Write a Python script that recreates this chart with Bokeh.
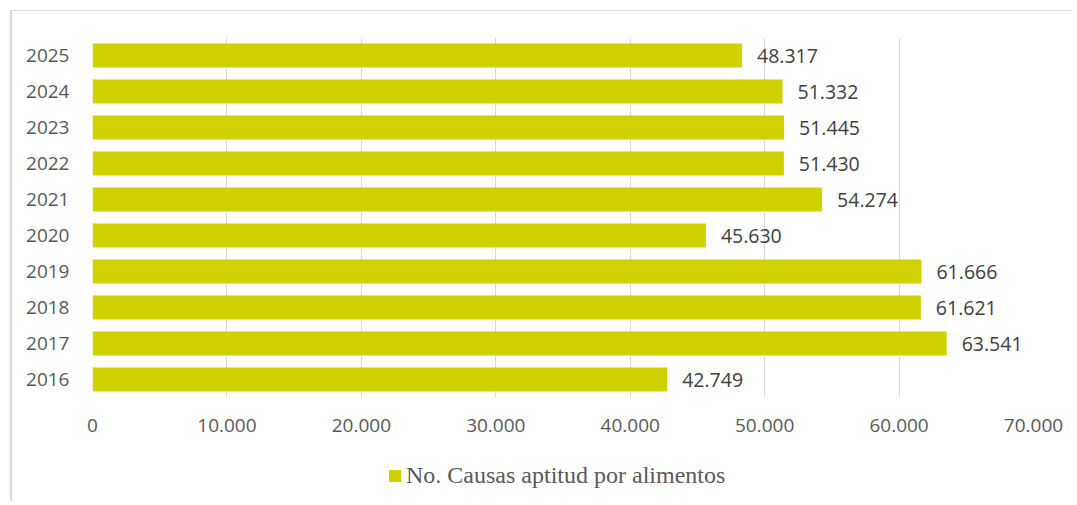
from bokeh.plotting import figure
from bokeh.layouts import column
from bokeh.models import FactorRange, Range1d, CustomJSTickFormatter, Legend, LegendItem, FixedTicker
from bokeh.core.properties import value
from bokeh.embed import file_html
from bokeh.resources import INLINE

years = ["2016", "2017", "2018", "2019", "2020", "2021", "2022", "2023", "2024", "2025"]
causas = [42749, 63541, 61621, 61666, 45630, 54274, 51430, 51445, 51332, 48317]
x_ticks = [0, 10000, 20000, 30000, 40000, 50000, 60000, 70000]
series_name = "No. Causas aptitud por alimentos"

labels = [f"{v:,}".replace(",", ".") for v in causas]

BAR = "#d1d100"
SANS = "Open Sans"
W = 1060

p = figure(width=W, height=440, output_backend="svg", toolbar_location=None,
           y_range=FactorRange(factors=years, range_padding=0),
           x_range=Range1d(0, 70000),
           min_border_left=80, min_border_top=26, min_border_right=39, min_border_bottom=54)
p.outline_line_color = None

r = p.hbar(y=years, right=causas, left=0, height=0.667, fill_color=BAR, line_color=None)
p.text(x=causas, y=years, text=labels, x_offset=15, text_baseline="middle", text_align="left",
       text_font=value(SANS), text_font_size="19.5px", text_color="#404040")

p.xaxis.ticker = FixedTicker(ticks=x_ticks)
p.xaxis.formatter = CustomJSTickFormatter(code="""
return String(Math.round(tick)).replace(/\\B(?=(\\d{3})+(?!\\d))/g, ".");
""")
for ax in (p.xaxis[0], p.yaxis[0]):
    ax.axis_line_color = None
    ax.major_tick_line_color = None
    ax.minor_tick_line_color = None
    ax.major_label_text_font = SANS
    ax.major_label_text_font_size = "19px"
    ax.major_label_text_color = "#595959"
p.xaxis.major_label_standoff = 15
p.yaxis.major_label_standoff = 17

p.xgrid.grid_line_color = "#d9d9d9"
p.xgrid.grid_line_width = 1
p.ygrid.grid_line_color = None

# legend strip
p2 = figure(width=W, height=50, output_backend="svg", toolbar_location=None,
            x_axis_type=None, y_axis_type=None, min_border=0,
            x_range=Range1d(0, 1), y_range=FactorRange(factors=years[:1]))
p2.outline_line_color = None
r2 = p2.hbar(y=years[:1], right=[0], left=0, height=0.667, fill_color=BAR, line_color=None)
legend = Legend(items=[LegendItem(label=series_name, renderers=[r2])],
                location=(295, 12), orientation="horizontal",
                padding=0, margin=0, border_line_color=None, background_fill_alpha=0,
                glyph_width=15, glyph_height=15, label_standoff=4, label_height=20,
                label_text_font="Liberation Serif", label_text_font_size="24px",
                label_text_color="#595959")
p2.add_layout(legend, "center")

layout = column(p, p2, spacing=0)
layout.styles = {"margin-top": "10px", "margin-left": "10px",
                 "border-top": "1px solid #d9d9d9", "border-left": "2px solid #d9d9d9"}

open("out.html", "w").write(file_html(layout, INLINE))
